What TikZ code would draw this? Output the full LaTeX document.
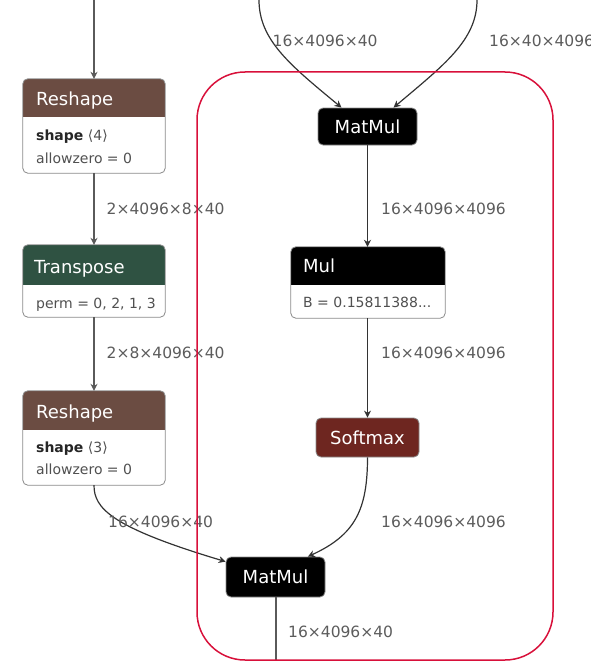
\documentclass[tikz,border=0pt]{standalone}
\usepackage{fontspec}
\setmainfont{DejaVu Sans}
\usetikzlibrary{arrows.meta}

\definecolor{hdrReshape}{HTML}{6B4C42}
\definecolor{hdrTranspose}{HTML}{2F5242}
\definecolor{hdrSoftmax}{HTML}{6E2620}
\definecolor{edgeDark}{HTML}{333333}
\definecolor{edgeGrey}{HTML}{5A5A5A}
\definecolor{labelGrey}{HTML}{5C5C5C}
\definecolor{bodyText}{HTML}{505050}
\definecolor{frameRed}{HTML}{D8103A}
\definecolor{boxBorder}{HTML}{8A8A8A}

\tikzset{
  x=1pt, y=-1pt,
  opbox/.style={rounded corners=5pt, fill=white, inner sep=0pt},
  simpleop/.style={draw=boxBorder, line width=0.8pt, rounded corners=5pt, inner sep=0pt,
    text=white, font=\fontsize{18}{20}\selectfont},
  hdrtext/.style={anchor=base west, inner sep=0pt, text=white, font=\fontsize{18}{20}\selectfont},
  attrtext/.style={anchor=base west, inner sep=0pt, text=bodyText, font=\fontsize{14}{16}\selectfont},
  shapelabel/.style={anchor=base west, inner sep=0pt, text=labelGrey, font=\fontsize{15.5}{17}\selectfont},
  flow/.style={draw=edgeDark, line width=1.2pt, -{Stealth[length=7pt,width=7pt]}},
  flowwide/.style={draw=edgeGrey, line width=2pt, -{Stealth[length=7pt,width=7pt]}},
}

% coloured header band on top of a two-part operator box, then its outline
\newcommand\paintheader[3]{%
  \begin{scope}
    \clip[rounded corners=5pt] (#1.north west) rectangle (#1.south east);
    \fill[#2] (#1.north west) rectangle ([yshift=-#3pt]#1.north east);
  \end{scope}
  \draw[boxBorder, line width=0.8pt, rounded corners=5pt] (#1.north west) rectangle (#1.south east);
}

\begin{document}
\begin{tikzpicture}
\useasboundingbox (0,0) rectangle (590,661);

% ---- left column: Reshape -> Transpose -> Reshape
\node[opbox, minimum width=142pt, minimum height=94pt] (reshapeA) at (94,126) {};
\paintheader{reshapeA}{hdrReshape}{38}
\node[hdrtext] (reshapeAName) at (36,105) {Reshape};
\node[attrtext] (reshapeAShape) at (36,140) {\textcolor{black!85}{\textbf{shape}} ⟨4⟩};
\node[attrtext] (reshapeAZero) at (36,163) {allowzero = 0};

\node[opbox, minimum width=142pt, minimum height=72pt] (transpose) at (94,281) {};
\paintheader{transpose}{hdrTranspose}{40}
\node[hdrtext] (transposeName) at (34,273) {Transpose};
\node[attrtext] (transposePerm) at (36,308) {perm = 0, 2, 1, 3};

\node[opbox, minimum width=142pt, minimum height=94pt] (reshapeB) at (94,438) {};
\paintheader{reshapeB}{hdrReshape}{39}
\node[hdrtext] (reshapeBName) at (36,418) {Reshape};
\node[attrtext] (reshapeBShape) at (36,452.5) {\textcolor{black!85}{\textbf{shape}} ⟨3⟩};
\node[attrtext] (reshapeBZero) at (36,474.5) {allowzero = 0};

% ---- right column: MatMul -> Mul -> Softmax
\node[simpleop, fill=black, minimum width=99pt, minimum height=37pt] (matmulA) at (367.5,126.5) {MatMul};

\node[opbox, minimum width=154pt, minimum height=71pt] (mul) at (368,282.5) {};
\paintheader{mul}{black}{38}
\node[hdrtext] (mulName) at (303,272.5) {Mul};
\node[attrtext] (mulB) at (303,307) {B = 0.15811388...};

\node[simpleop, fill=hdrSoftmax, minimum width=103pt, minimum height=39pt] (softmax) at (367.5,437.5) {Softmax};

\node[simpleop, fill=black, minimum width=99pt, minimum height=40pt] (matmulB) at (275.5,577) {MatMul};

% ---- connectors
\coordinate (srcTop) at (94,0);
\coordinate (inQ) at (259,0);
\coordinate (inK) at (477,0);
\coordinate (outEnd) at (275.5,661);

\draw[flowwide] (srcTop) -- (reshapeA.north);
\draw[flowwide] (reshapeA.south) -- (transpose.north);
\draw[flowwide] (transpose.south) -- (reshapeB.north);

\draw[flow] (inQ) .. controls (259,40) and (290,65) .. ([xshift=-26pt]matmulA.north);
\draw[flow] (inK) .. controls (477,40) and (444,65) .. ([xshift=26pt]matmulA.north);
\draw[flow] (matmulA.south) -- (matmulA.south |- mul.north);
\draw[flow] (matmulA.south |- mul.south) -- (matmulA.south |- softmax.north);
\draw[flow] (softmax.south) .. controls (367.5,510) and (355,535) .. ([xshift=-17.5pt]matmulB.north east);
\draw[flow] (reshapeB.south) .. controls (94,508) and (110,527) .. ([yshift=-5pt]matmulB.north west);
\draw[flowwide, -] (matmulB.south) -- (outEnd);

% ---- tensor shapes on the connectors
\node[shapelabel] (lblQ) at (272.5,47) {16×4096×40};
\node[shapelabel] (lblK) at (489,47) {16×40×4096};
\node[shapelabel] (lblR1) at (106.5,214) {2×4096×8×40};
\node[shapelabel] (lblT1) at (106.5,358) {2×8×4096×40};
\node[shapelabel] (lblMM) at (381,214) {16×4096×4096};
\node[shapelabel] (lblMul) at (381,358) {16×4096×4096};
\node[shapelabel] (lblSm) at (381,527) {16×4096×4096};
\node[shapelabel] (lblR2) at (108,527) {16×4096×40};
\node[shapelabel] (lblOut) at (288,637) {16×4096×40};

% ---- highlighted attention block
\node[draw=frameRed, line width=1.5pt, rounded corners=48pt, inner sep=0pt,
      minimum width=356pt, minimum height=588pt] (attnFrame) at (375,366) {};
\end{tikzpicture}
\end{document}
